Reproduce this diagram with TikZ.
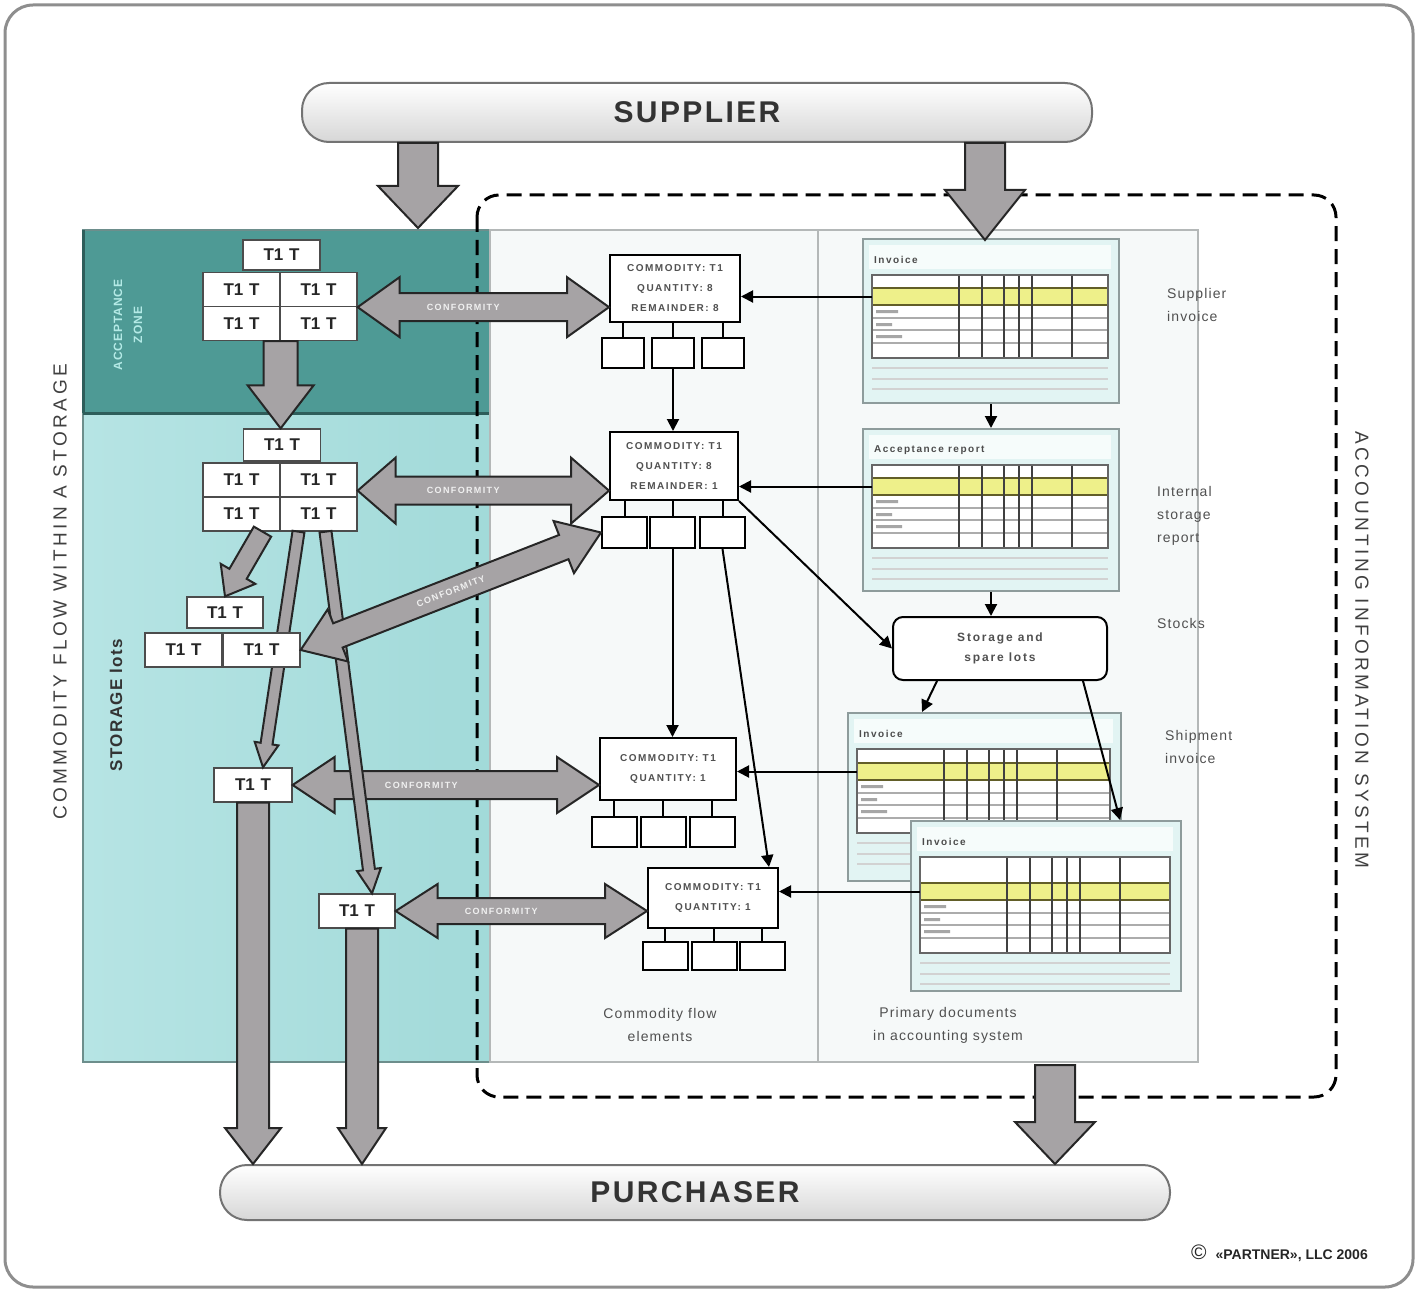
\documentclass[tikz,border=0pt]{standalone}
\usepackage{fontspec}
\setmainfont{Liberation Sans}
\newfontfamily\lsA[LetterSpace=15]{Liberation Sans}
\newfontfamily\lsB[LetterSpace=8]{Liberation Sans}
\newfontfamily\lsC[LetterSpace=18]{Liberation Sans}
\usetikzlibrary{calc,arrows.meta}

\definecolor{tealdark}{HTML}{4E9A95}
\definecolor{teallightA}{HTML}{B6E4E4}
\definecolor{teallightB}{HTML}{A2DAD9}
\definecolor{tealedge}{HTML}{2E5E5B}
\definecolor{panelfill}{HTML}{F6F9F9}
\definecolor{paneledge}{HTML}{B4B8B8}
\definecolor{docfill}{HTML}{E2F4F3}
\definecolor{docedge}{HTML}{8E9C9C}
\definecolor{rowyellow}{HTML}{EEF08A}
\definecolor{arrowgray}{HTML}{A6A3A5}
\definecolor{framegray}{HTML}{8E8E8E}
\definecolor{textgray}{HTML}{505050}
\definecolor{palecyan}{HTML}{B4EAE6}

% single block arrow: start, tip, half shaft, half head, head length
\newcommand\fatarrow[5]{%
  \path #1 coordinate (fas);
  \path #2 coordinate (fae);
  \path ($(fae)!#5!(fas)$) coordinate (fah);
  \draw[fatfill] ($(fas)!#3!90:(fae)$) -- ($(fah)!#3!-90:(fas)$) -- ($(fah)!#4!-90:(fas)$) -- (fae)
     -- ($(fah)!#4!90:(fas)$) -- ($(fah)!#3!90:(fas)$) -- ($(fas)!#3!-90:(fae)$) -- cycle;
}
% double block arrow with label: start, end, half shaft, half head, head length, label pos, label name
\newcommand\fatdouble[7]{%
  \path #1 coordinate (fas);
  \path #2 coordinate (fae);
  \path ($(fae)!#5!(fas)$) coordinate (fah) ($(fas)!#5!(fae)$) coordinate (fat);
  \draw[fatfill] (fas) -- ($(fat)!#4!90:(fae)$) -- ($(fat)!#3!90:(fae)$) -- ($(fah)!#3!-90:(fas)$)
     -- ($(fah)!#4!-90:(fas)$) -- (fae) -- ($(fah)!#4!90:(fas)$) -- ($(fah)!#3!90:(fas)$)
     -- ($(fat)!#3!-90:(fae)$) -- ($(fat)!#4!-90:(fae)$) -- cycle;
  \path (fas) -- (fae) node[conf, pos=#6, sloped] (#7) {CONFORMITY};
}
% document sheet: name, x, y, w, h, title, yellow-row top
\newcommand\docsheet[7]{%
  \node[docbox, minimum width=#4pt, minimum height=#5pt, anchor=north west] (#1) at (#2,#3) {};
  \begin{scope}[shift={(#1.north west)}]
    \pgfmathsetmacro\ya{#7}
    \pgfmathsetmacro\yb{#7+17}
    \pgfmathsetmacro\yc{#7+30}
    \pgfmathsetmacro\yd{#7+42}
    \pgfmathsetmacro\ye{#7+55}
    \pgfmathsetmacro\yf{#7+70}
    \pgfmathsetmacro\xr{#4-10}
    \fill[white!70!docfill] (7,7) rectangle (#4-7,31);
    \node[doctitle, anchor=west] (#1title) at (12,22) {#6};
    \fill[white] (10,37) rectangle (\xr,\yf);
    \fill[rowyellow] (10,\ya) rectangle (\xr,\yb);
    \foreach \yy in {\yc,\yd,\ye} \draw[gray!65, line width=1.8pt] (10,\yy) -- (\xr,\yy);
    \fill[gray!70] (14,\yb+5) rectangle (36,\yb+8) (14,\yc+5) rectangle (30,\yc+8)
                   (14,\yd+5) rectangle (40,\yd+8);
    \draw[olive!60!black, line width=1.4pt] (10,\ya) -- (\xr,\ya) (10,\yb) -- (\xr,\yb);
    \foreach \xx in {97,120,142,157,170,210} \draw[black!75, line width=1.5pt] (\xx,37) -- (\xx,\yf);
    \draw[gray!80!black, line width=1.8pt] (10,37) rectangle (\xr,\yf);
    \foreach \yy in {10,21,31} \draw[gray!35, line width=1.2pt] (10,\yf+\yy) -- (\xr,\yf+\yy);
    \coordinate (#1row) at (10,{(\ya+\yb)/2});
  \end{scope}
}

\begin{document}
\begin{tikzpicture}[x=1pt,y=-1pt,
  fatfill/.style={draw=black!85, line width=2pt, fill=arrowgray, line join=miter},
  pill/.style={draw=black!55, line width=2pt, rounded corners=27pt, top color=white, bottom color=black!16,
     font=\lsB\bfseries\fontsize{30}{30}\selectfont, text=black!80},
  cell/.style={draw=black!70, line width=1.3pt, fill=white, minimum width=77pt, minimum height=34pt,
     inner sep=0pt, font=\bfseries\fontsize{17}{17}\selectfont, text=black!85},
  combox/.style={draw=black, line width=2pt, fill=white, align=center, inner sep=2pt,
     font=\lsA\bfseries\fontsize{10}{20}\selectfont, text=textgray},
  subbox/.style={draw=black, line width=2pt, fill=white, minimum width=45pt, minimum height=30pt, inner sep=0pt},
  twig/.style={draw=black, line width=2pt},
  link/.style={draw=black, line width=2pt, -{Triangle[length=12pt,width=12pt]}},
  docbox/.style={draw=docedge, line width=2pt, fill=docfill, inner sep=0pt},
  doctitle/.style={font=\lsA\bfseries\fontsize{10}{10}\selectfont, text=black!70, inner sep=0pt},
  conf/.style={font=\lsA\bfseries\fontsize{9}{9}\selectfont, text=white!88!gray, inner sep=0pt},
  side/.style={font=\lsB\fontsize{14}{23}\selectfont, text=textgray, align=left, anchor=north west, inner sep=0pt},
  bottomlbl/.style={font=\lsB\fontsize{14}{23}\selectfont, text=textgray, align=center, inner sep=0pt}
]
\useasboundingbox (0,0) rectangle (1419,1292);

% outer frame
\draw[framegray, line width=3pt, rounded corners=28pt] (5,5) rectangle (1413,1287);

% teal storage area
\shade[left color=teallightA, right color=teallightB] (83,413) rectangle (490,1062);
\fill[tealdark] (83,230) rectangle (490,413);
\draw[tealedge!70, line width=2pt] (83,230) rectangle (490,1062);
\draw[tealedge, line width=3pt] (83,413) -- (490,413);
\draw[tealedge, line width=3pt] (83,230) -- (83,413);

% documents panel
\draw[paneledge, fill=panelfill, line width=1.5pt] (490,230) rectangle (1198,1062);
\draw[paneledge, line width=2pt] (818,230) -- (818,1062);

% accounting system dashed frame
\draw[black, line width=3pt, dash pattern=on 15pt off 8pt, rounded corners=22pt] (477,195) rectangle (1336,1097);

% supplier / purchaser
\node[pill, minimum width=790pt, minimum height=59pt] (sup) at (697,112.5) {SUPPLIER};
\node[pill, minimum width=950pt, minimum height=55pt] (pur) at (695,1192.5) {PURCHASER};

% vertical labels
\node[rotate=90, font=\lsC\fontsize{19}{19}\selectfont, text=black!75] (lblA) at (60,592) {COMMODITY FLOW WITHIN A STORAGE};
\node[rotate=-90, font=\lsC\fontsize{19}{19}\selectfont, text=black!75] (lblB) at (1362,650) {ACCOUNTING INFORMATION SYSTEM};
\node[rotate=90, font=\lsB\bfseries\fontsize{17}{17}\selectfont, text=black!80] (lblC) at (116,705) {STORAGE lots};
\node[rotate=90, align=center, font=\lsB\bfseries\fontsize{12}{20}\selectfont, text=palecyan] (lblD) at (128,325) {ACCEPTANCE\\ZONE};

% T1 cells (pyramids 1 and 2, single boxes)
\node[cell, minimum height=30pt] (p1a) at (281.5,255) {T1\,\,T};
\node[cell] (p1m1) at (241.5,289.5) {T1\,\,T};
\node[cell] (p1m2) at (318.5,289.5) {T1\,\,T};
\node[cell] (p1b1) at (241.5,323.5) {T1\,\,T};
\node[cell] (p1b2) at (318.5,323.5) {T1\,\,T};

\node[cell, minimum height=32pt] (p2a) at (282,445) {T1\,\,T};
\node[cell] (p2m1) at (241.5,480) {T1\,\,T};
\node[cell] (p2m2) at (318.5,480) {T1\,\,T};
\node[cell] (p2b1) at (241.5,514) {T1\,\,T};
\node[cell] (p2b2) at (318.5,514) {T1\,\,T};

\node[cell, minimum width=78pt] (b4) at (253,785) {T1\,\,T};
\node[cell, minimum width=76pt] (b5) at (357,911) {T1\,\,T};

% commodity boxes
\node[combox, minimum width=130pt, minimum height=67pt] (c1) at (675,288.5) {COMMODITY: T1\\QUANTITY: 8\\REMAINDER: 8};
\node[subbox, minimum width=42pt] (c1s1) at (623,353) {};
\node[subbox, minimum width=42pt] (c1s2) at (673,353) {};
\node[subbox, minimum width=42pt] (c1s3) at (722.5,353) {};

\node[combox, minimum width=128pt, minimum height=68pt] (c2) at (674,466) {COMMODITY: T1\\QUANTITY: 8\\REMAINDER: 1};
\node[subbox, minimum height=31pt] (c2s1) at (624.5,532.5) {};
\node[subbox, minimum height=31pt] (c2s2) at (672.5,532.5) {};
\node[subbox, minimum height=31pt] (c2s3) at (722.5,532.5) {};

\node[combox, minimum width=136pt, minimum height=62pt] (c3) at (668,769) {COMMODITY: T1\\QUANTITY: 1};
\node[subbox] (c3s1) at (614,832) {};
\node[subbox] (c3s2) at (663,832) {};
\node[subbox] (c3s3) at (712,832) {};

\node[combox, minimum width=130pt, minimum height=60pt] (c4) at (713,898) {COMMODITY: T1\\QUANTITY: 1};
\node[subbox, minimum height=28pt] (c4s1) at (665,956) {};
\node[subbox, minimum height=28pt] (c4s2) at (714,956) {};
\node[subbox, minimum height=28pt] (c4s3) at (762,956) {};

\foreach \b in {c1,c2,c3,c4}{
  \foreach \s in {1,2,3}{
    \draw[twig] (\b s\s.north) -- (\b s\s.north |- \b.south);
  }
}

% lower conformity arrows (under the narrow flow arrows)
\fatdouble{(b4.east)}{(c3.west |- fas)}{14pt}{28pt}{42pt}{0.42}{cf4}
\fatdouble{(b5.east)}{(c4.west |- fas)}{13pt}{27pt}{42pt}{0.42}{cf5}

% narrow flow arrows from storage lot to single lots
\fatarrow{([xshift=-20pt]p2b2.south)}{([xshift=10pt]b4.north)}{6pt}{12pt}{24pt}
\fatarrow{([xshift=7pt]p2b2.south)}{([xshift=15pt]b5.north)}{6pt}{12pt}{24pt}

% pyramid 3 (on top of the narrow arrows)
\node[cell, minimum height=31pt, minimum width=76pt] (p3a) at (225,612.5) {T1\,\,T};
\node[cell] (p3b1) at (183.5,650) {T1\,\,T};
\node[cell] (p3b2) at (261.5,650) {T1\,\,T};

% documents
\docsheet{d1}{862}{238}{256}{164}{Invoice}{50}
\docsheet{d2}{862}{428}{256}{162}{Acceptance report}{50}
\docsheet{d3}{847}{712}{273}{168}{Invoice}{51}
\docsheet{d4}{910}{820}{270}{170}{Invoice}{63}

% storage box
\node[draw=black, line width=2pt, fill=white, rounded corners=10pt, minimum width=214pt, minimum height=63pt,
      align=center, font=\lsA\bfseries\fontsize{12}{20}\selectfont, text=textgray] (stor) at (1000,648.5) {Storage and\\spare lots};

% side labels
\node[side] (r1) at (1167,288) {Supplier\\invoice};
\node[side] (r2) at (1157,486) {Internal\\storage\\report};
\node[side] (r3) at (1157,618) {Stocks};
\node[side] (r4) at (1165,730) {Shipment\\invoice};

\node[bottomlbl] (bl1) at (660,1025) {Commodity flow\\elements};
\node[bottomlbl] (bl2) at (948,1025) {Primary documents\\in accounting system};

\node[anchor=east, inner sep=0pt, text=black!85] (copy) at (1368,1253)
  {{\fontsize{21}{21}\selectfont ©}\hspace{9pt}{\bfseries\fontsize{14}{14}\selectfont «PARTNER», LLC 2006}};

% block arrows
\coordinate (in1) at (418,228);
\coordinate (in2) at (985,240);
\coordinate (out) at (1055,1065);
\fatarrow{(sup.south -| in1)}{(in1)}{20pt}{40pt}{42pt}
\fatarrow{(sup.south -| in2)}{(in2)}{20pt}{40pt}{50pt}
\fatarrow{(out)}{(out |- pur.north)}{20pt}{40pt}{42pt}
\fatarrow{(p1b1.south east)}{(p1b1.south east |- p2a.north)}{17pt}{33pt}{43pt}
\fatarrow{([xshift=21pt]p2b1.south)}{(p3a.north)}{10pt}{20pt}{26pt}
\fatarrow{(b4.south)}{(b4.south |- pur.north)}{16pt}{28pt}{36pt}
\fatarrow{([xshift=5pt]b5.south)}{([xshift=5pt]b5.south |- pur.north)}{16pt}{24pt}{36pt}

\fatdouble{(p1m2.south east)}{(c1.west |- fas)}{14pt}{30pt}{42pt}{0.42}{cf1}
\fatdouble{([yshift=7pt]p2m2.south east)}{(c2.west |- fas)}{14pt}{33pt}{38pt}{0.42}{cf2}
\fatdouble{(p3b2.east)}{(c2s1.west)}{13pt}{28pt}{40pt}{0.5}{cf3}

% connectors
\draw[link] (c1s2.south) -- (c1s2.south |- c2.north);
\draw[link] (d1row) -- (d1row -| c1.east);
\draw[link] (d2row) -- (d2row -| c2.east);
\draw[link] (d3row) -- (d3row -| c3.east);
\draw[link] (d4row) -- (d4row -| c4.east);
\draw[link] (c2s2.south) -- (c2s2.south |- c3.north);
\draw[link] (c2s3.south) -- ([xshift=-10pt]c4.north east);
\draw[link] (c2.south east) -- (stor.west);
\draw[link] (d1.south) -- (d1.south |- d2.north);
\draw[link] (d2.south) -- (d2.south |- stor.north);
\draw[link] ([xshift=45pt]stor.south west) -- ([xshift=75pt]d3.north west);
\draw[link] ([xshift=-25pt]stor.south east) -- ([xshift=-62pt]d4.north east);
\end{tikzpicture}
\end{document}
